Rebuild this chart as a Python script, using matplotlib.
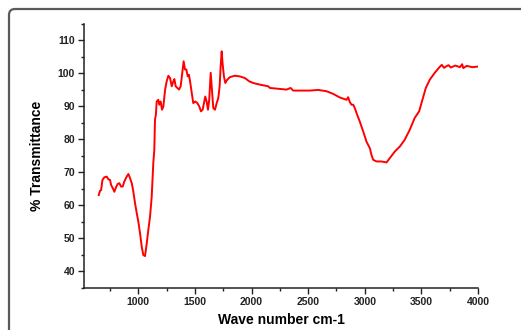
import numpy as np
import matplotlib
matplotlib.use("Agg")
import matplotlib.pyplot as plt
from matplotlib.patches import FancyBboxPatch
from matplotlib.ticker import MultipleLocator

plt.rcParams['font.family'] = ['Liberation Sans', 'DejaVu Sans']
plt.rcParams['font.weight'] = 'bold'

# FTIR spectrum
wavenumber = [650, 662, 671, 683, 700, 721, 735, 750, 759, 774, 788, 803, 818, 832,
              847, 862, 876, 897, 912, 927, 942, 956, 971, 986, 1000, 1015, 1030,
              1044, 1059, 1074, 1088, 1103, 1118, 1132, 1141, 1147, 1155, 1162, 1176,
              1185, 1197, 1209, 1221, 1236, 1250, 1265, 1280, 1295, 1309, 1318, 1330,
              1344, 1359, 1374, 1388, 1400, 1412, 1424, 1436, 1447, 1459, 1474, 1485,
              1503, 1521, 1538, 1553, 1568, 1580, 1591, 1603, 1615, 1626, 1639, 1650,
              1662, 1677, 1692, 1706, 1718, 1727, 1736, 1745, 1756, 1768, 1785, 1809,
              1853, 1897, 1941, 1980, 2015, 2074, 2147, 2162, 2221, 2309, 2345, 2368,
              2427, 2515, 2588, 2662, 2721, 2780, 2839, 2853, 2868, 2883, 2898, 2912,
              2927, 2956, 2986, 3015, 3045, 3059, 3074, 3104, 3147, 3192, 3221, 3265,
              3309, 3353, 3397, 3441, 3480, 3509, 3539, 3574, 3618, 3662, 3680, 3700,
              3721, 3740, 3760, 3800, 3840, 3860, 3870, 3900, 3950, 4000]
transmittance = [63.1, 64.4, 64.6, 67.7, 68.5, 68.7, 67.9, 67.7, 66.2, 65.2, 64.1, 65.5,
                 66.5, 66.7, 65.7, 65.7, 67.2, 68.7, 69.5, 68.2, 66.7, 64.1, 60.6, 57.6,
                 55.0, 51.5, 47.4, 44.9, 44.6, 48.4, 52.5, 56.5, 62.6, 72.8, 76.8, 86.0,
                 87.5, 91.5, 92.0, 90.5, 91.5, 89.0, 90.0, 95.0, 97.6, 99.3, 98.6, 96.1,
                 97.6, 98.3, 96.1, 95.6, 95.1, 96.1, 100.2, 103.7, 101.2, 101.2, 99.1,
                 99.6, 97.1, 93.6, 91.0, 91.5, 91.0, 90.0, 88.5, 89.0, 91.0, 93.0, 91.5,
                 89.0, 92.0, 100.2, 95.1, 89.5, 89.0, 91.0, 92.5, 96.1, 102.2, 106.7,
                 102.7, 99.1, 97.1, 98.1, 98.9, 99.3, 99.1, 98.6, 97.6, 97.1, 96.6, 96.1,
                 95.6, 95.4, 95.1, 95.6, 94.8, 94.8, 94.8, 95.0, 94.6, 93.8, 92.7, 92.0,
                 92.8, 91.3, 90.5, 90.5, 89.5, 88.0, 85.4, 82.4, 79.3, 77.3, 75.3, 73.8,
                 73.3, 73.3, 73.0, 74.3, 76.3, 77.8, 79.9, 82.9, 86.5, 88.5, 92.0, 95.6,
                 98.1, 100.2, 102.0, 102.6, 101.7, 102.2, 102.5, 101.8, 102.4, 101.9,
                 102.8, 101.6, 102.3, 101.9, 102.1]

fig = plt.figure(figsize=(5.21, 3.30), dpi=100)

# rounded grey frame around the figure
bg = fig.add_axes([0, 0, 1, 1])
bg.set_xlim(0, 521)
bg.set_ylim(330, 0)
bg.axis('off')
frame = FancyBboxPatch((9, 9), 530, 340, boxstyle="round,pad=0,rounding_size=6",
                       linewidth=1.6, edgecolor='#5a5a5a', facecolor='none')
bg.add_patch(frame)

ax = fig.add_axes([84/521, 42.3/330, (478-84)/521, (287.7-24)/330])
ax.patch.set_alpha(0)
ax.plot(wavenumber, transmittance, color='#ff0000', linewidth=1.4)

ax.set_xlim(520, 4000)
ax.set_ylim(35, 115)
ax.xaxis.set_major_locator(MultipleLocator(500))
ax.xaxis.set_minor_locator(MultipleLocator(250))
ax.yaxis.set_major_locator(MultipleLocator(10))
ax.yaxis.set_minor_locator(MultipleLocator(5))
ax.set_xticks([1000, 1500, 2000, 2500, 3000, 3500, 4000])
ax.set_yticks([40, 50, 60, 70, 80, 90, 100, 110])

for s in ['top', 'right']:
    ax.spines[s].set_visible(False)
for s in ['left', 'bottom']:
    ax.spines[s].set_linewidth(1.1)
    ax.spines[s].set_color('#222222')

ax.tick_params(which='major', direction='out', length=4.5, width=1.0,
               labelsize=7.5, colors='#222222', pad=2)
ax.tick_params(which='minor', direction='out', length=2.5, width=1.0, colors='#222222')

ax.set_xlabel('Wave number cm-1', fontsize=10, fontweight='bold', labelpad=4.5)
ax.set_ylabel('% Transmittance', fontsize=10, fontweight='bold', labelpad=10)

fig.savefig('out.png', dpi=100)
